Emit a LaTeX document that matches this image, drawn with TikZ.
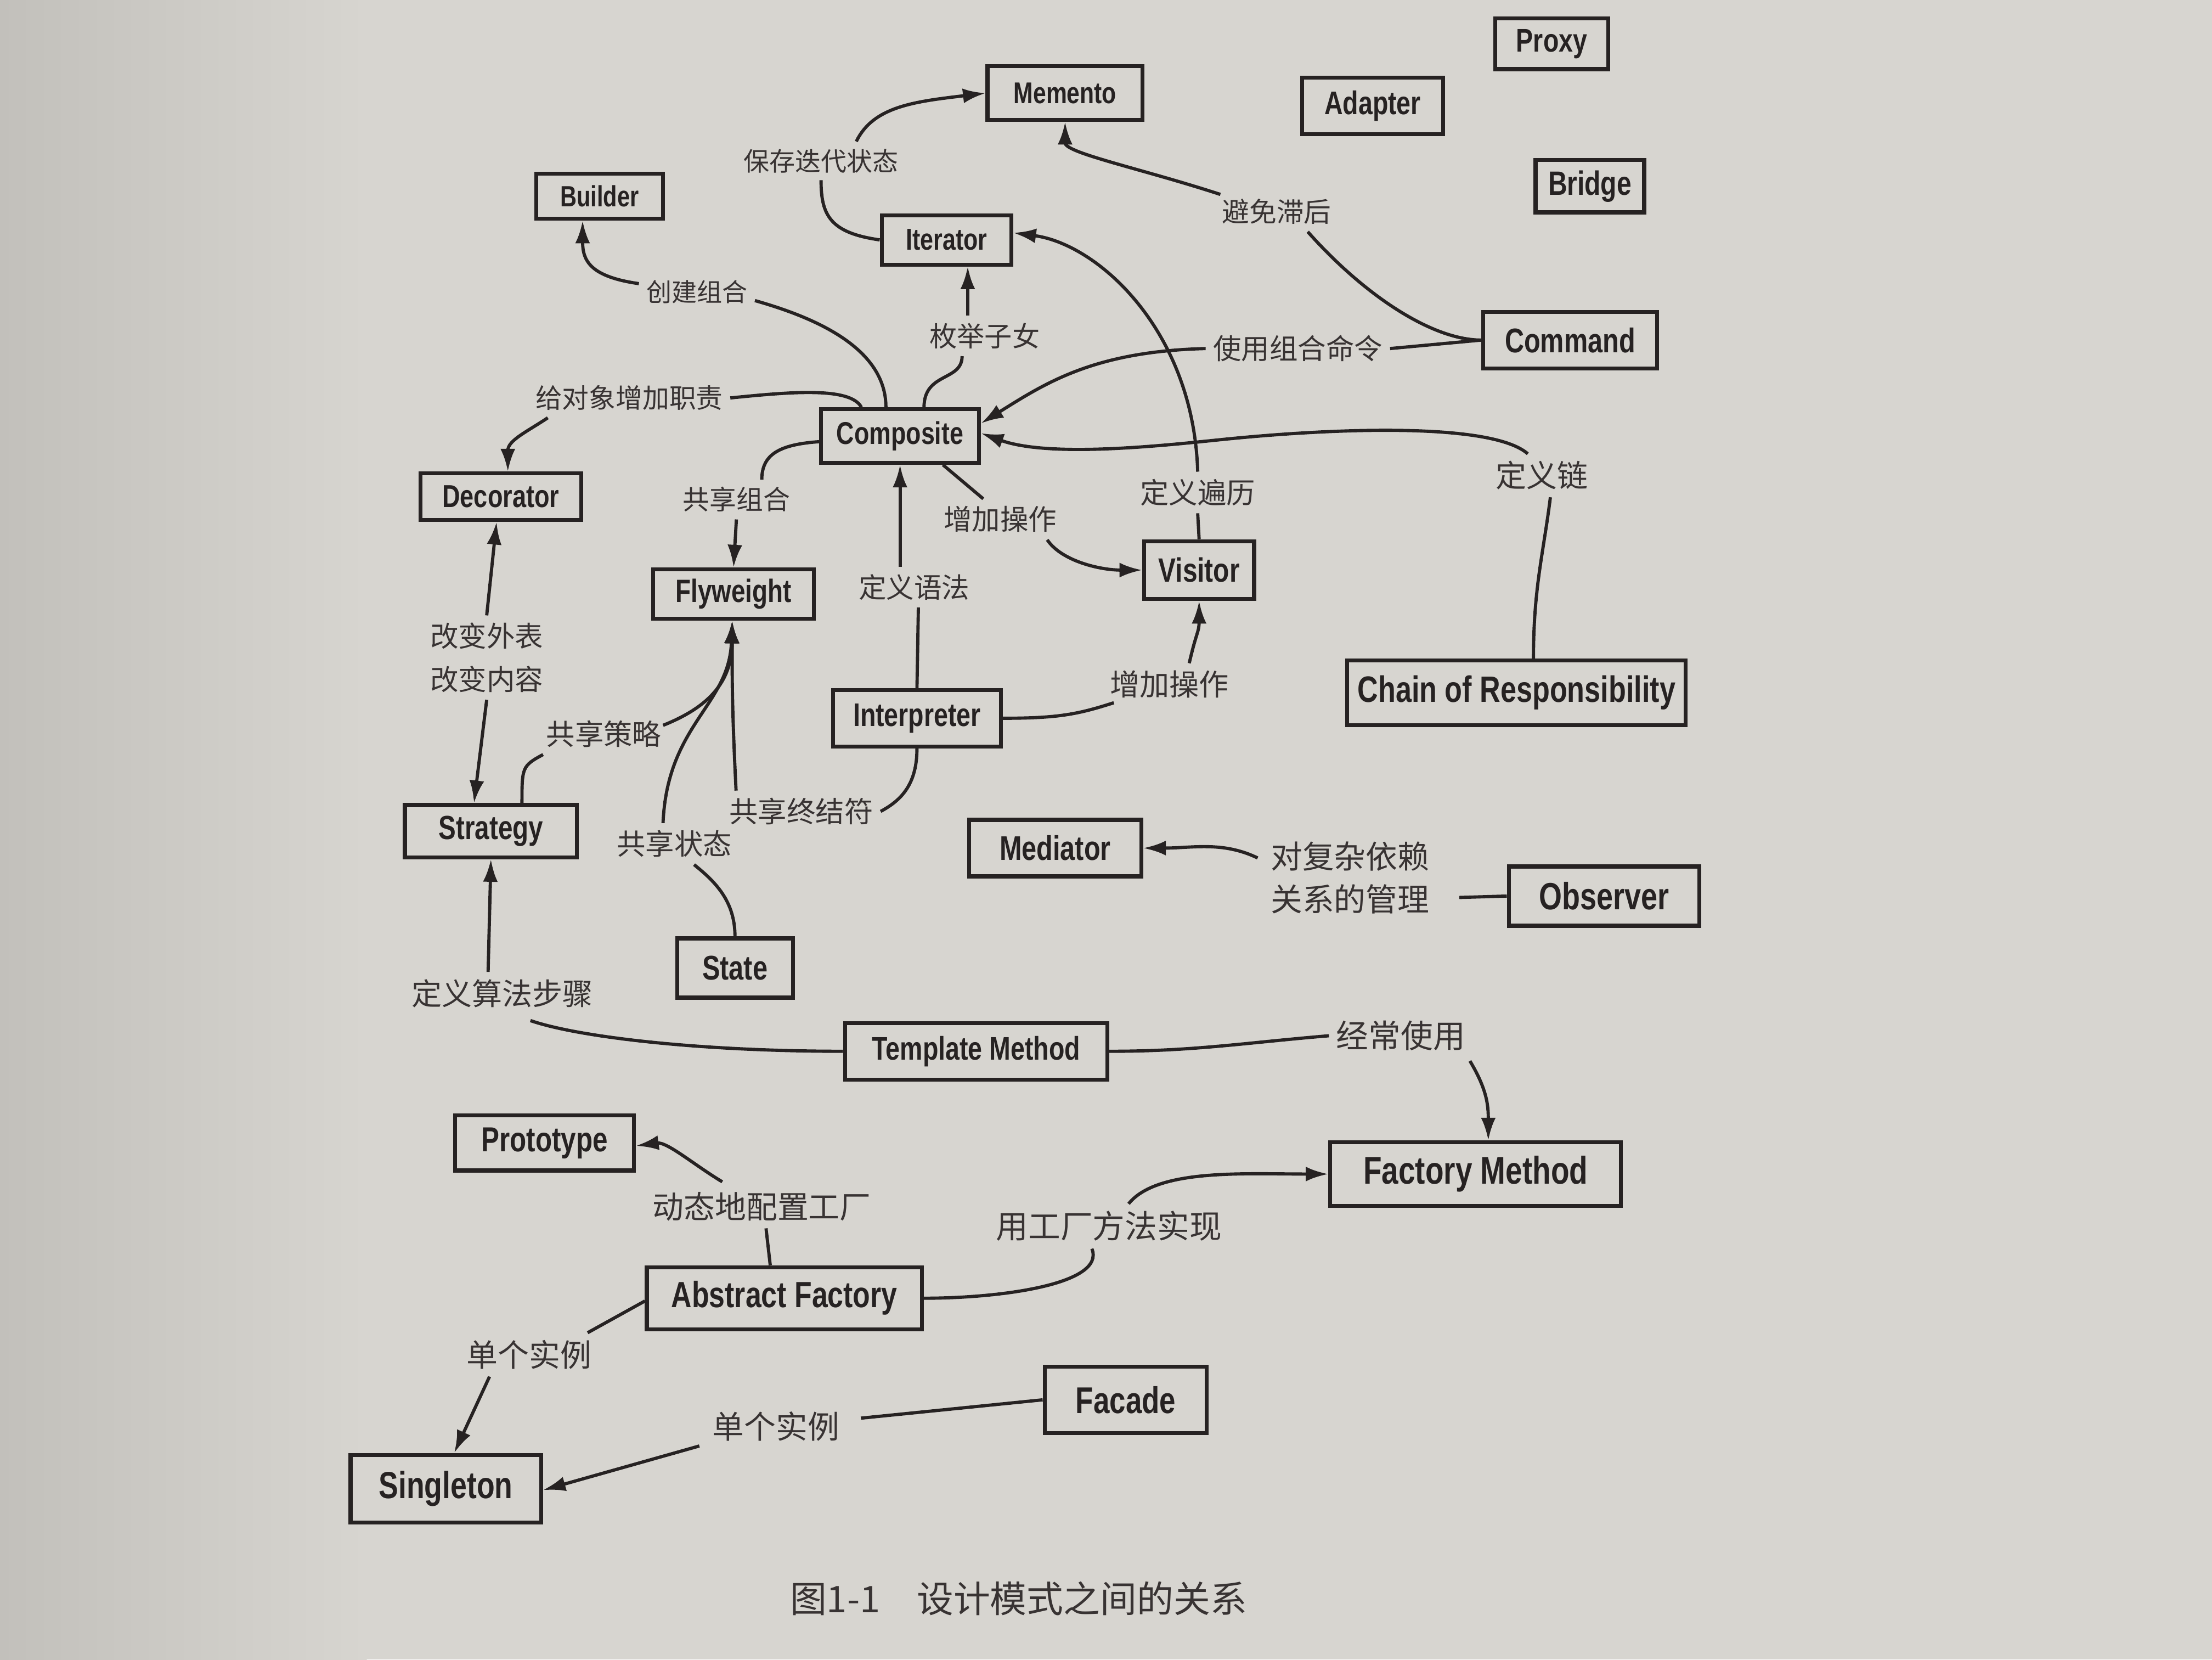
\documentclass[tikz,border=0pt]{standalone}
\usepackage{fontspec}
\usepackage{tikz}
\usetikzlibrary{arrows.meta,calc}
\newfontfamily\cjk{Noto Sans CJK SC}
\newfontfamily\boxfont{Liberation Sans}[FakeStretch=0.78]
\definecolor{Paper}{HTML}{D7D5D0}
\definecolor{PaperDark}{HTML}{C2C0BB}
\definecolor{Ink}{HTML}{262222}
\definecolor{InkSoft}{HTML}{383333}
\tikzset{
  box/.style={draw=Ink,line width=0.8pt,inner sep=0pt,align=center,text=Ink,font=\boxfont\bfseries\fontsize{#1}{#1}\selectfont},
  box/.default=7,
  note/.style={inner sep=1.3pt,align=center,text=InkSoft,font=\cjk\fontsize{#1}{8.7}\selectfont},
  note/.default=5.8,
  link/.style={draw=Ink,line width=0.65pt},
  arr/.style={link,-{Latex[length=1.6mm,width=1.05mm]}}
}

\begin{document}
\begin{tikzpicture}[x=0.1mm,y=-0.1mm]
  \shade[left color=PaperDark,right color=Paper] (0,0) rectangle (260,1176);
  \fill[Paper] (259,0) rectangle (1568,1176);
  \useasboundingbox (0,0) rectangle (1568,1176);

  % patterns
  \node[box=6.05,minimum width=11mm,minimum height=3.8mm] (memento) at (755,66) {Memento};
  \node[box=6.6,minimum width=8mm,minimum height=3.6mm] (proxy) at (1100,31) {Proxy};
  \node[box=6.6,minimum width=10mm,minimum height=4mm] (adapter) at (973,75) {Adapter};
  \node[box=6.8,minimum width=7.7mm,minimum height=3.7mm] (bridge) at (1127,132) {Bridge};
  \node[box=5.9,minimum width=9mm,minimum height=3.2mm] (builder) at (425,139) {Builder};
  \node[box=6.1,minimum width=9.2mm,minimum height=3.5mm] (iterator) at (671,170) {Iterator};
  \node[box=6.9,minimum width=12.3mm,minimum height=4mm] (command) at (1113,241) {Command};
  \node[box=6.35,minimum width=11.2mm,minimum height=3.8mm] (composite) at (638,309) {Composite};
  \node[box=6.4,minimum width=11.4mm,minimum height=3.3mm] (decorator) at (355,352) {Decorator};
  \node[box=6.5,minimum width=11.4mm,minimum height=3.5mm] (flyweight) at (520,421) {Flyweight};
  \node[box=6.8,minimum width=7.8mm,minimum height=4.1mm] (visitor) at (850,404) {Visitor};
  \node[box=7.4,minimum width=24mm,minimum height=4.6mm] (chain) at (1075,491) {Chain of Responsibility};
  \node[box=6.6,minimum width=11.9mm,minimum height=4mm] (interp) at (650,509) {Interpreter};
  \node[box=6.75,minimum width=12.2mm,minimum height=3.7mm] (strategy) at (348,589) {Strategy};
  \node[box=6.9,minimum width=12.2mm,minimum height=4mm] (mediator) at (748,601) {Mediator};
  \node[box=7.65,minimum width=13.5mm,minimum height=4.2mm] (observer) at (1137,635) {Observer};
  \node[box=6.9,minimum width=8.2mm,minimum height=4.2mm] (state) at (521,686) {State};
  \node[box=6.6,minimum width=18.6mm,minimum height=4mm] (template) at (692,745) {Template Method};
  \node[box=7,minimum width=12.7mm,minimum height=3.9mm] (prototype) at (386,810) {Prototype};
  \node[box=7.8,minimum width=20.6mm,minimum height=4.5mm] (factory) at (1046,832) {Factory Method};
  \node[box=7.35,minimum width=19.5mm,minimum height=4.4mm] (abstract) at (556,920) {Abstract Factory};
  \node[box=7.5,minimum width=11.5mm,minimum height=4.7mm] (facade) at (798,992) {Facade};
  \node[box=7.6,minimum width=13.5mm,minimum height=4.8mm] (singleton) at (316,1055) {Singleton};

  % relations
  \node[note=5.2] (saveState) at (582,114) {保存迭代状态};
  \node[note=5.5] (avoidLag) at (905,150) {避免滞后};
  \node[note=5.1] (buildComp) at (494,207) {创建组合};
  \node[note=5.55] (enumKids) at (698,238) {枚举子女};
  \node[note=5.7] (useCmd) at (920,247) {使用组合命令};
  \node[note=5.4] (addResp) at (446,282) {给对象增加职责};
  \node[note=5.4] (shareComp) at (522,354) {共享组合};
  \node[note=5.8] (defTrav) at (849,349) {定义遍历};
  \node[note=6.2] (defChain) at (1093,337) {定义链};
  \node[note=5.7] (addOpA) at (709,368) {增加操作};
  \node[note=5.6] (defGram) at (648,416) {定义语法};
  \node[note=5.7] (changeLook) at (345,466) {改变外表\\改变内容};
  \node[note=5.8] (shareStrat) at (428,520) {共享策略};
  \node[note=6] (addOpB) at (829,485) {增加操作};
  \node[note=5.8] (shareTerm) at (568,575) {共享终结符};
  \node[note=5.8] (shareState) at (478,598) {共享状态};
  \node[note=6.4] (depMgmt) at (957,622) {对复杂依赖\\关系的管理};
  \node[note=6.1] (algSteps) at (356,704) {定义算法步骤};
  \node[note=6.5] (oftenUse) at (993,734) {经常使用};
  \node[note=6.3] (cfgFactory) at (540,855) {动态地配置工厂};
  \node[note=6.5] (viaFactory) at (786,869) {用工厂方法实现};
  \node[note=6.3] (oneInstA) at (375,960) {单个实例};
  \node[note=6.4] (oneInstB) at (550,1011) {单个实例};
  \node[note=7.4] (caption) at (722,1133) {图1-1\quad 设计模式之间的关系};

  \draw[link] (iterator.west) .. controls +(-35,-5) and +(0,25) .. (saveState.south);
  \draw[arr] ($(saveState.north)+(25,0)$) .. controls +(12,-25) and +(-50,6) .. (memento.west);
  \draw[link] (command.west) .. controls +(-35,0) and +(40,45) .. ($(avoidLag.south)+(22,0)$);
  \draw[arr] ($(avoidLag.north west)+(4,2)$) .. controls +(-55,-18) and +(0,22) .. (memento.south);
  \draw[link] ($(composite.north)+(-10,0)$) .. controls +(0,-45) and +(35,10) .. ($(buildComp.east)+(0,6)$);
  \draw[arr] ($(buildComp.west)+(0,-6)$) .. controls +(-35,-5) and +(0,28) .. ($(builder.south)+(-12,0)$);
  \draw[link] ($(composite.north)+(17,0)$) .. controls +(0,-25) and +(0,18) .. ($(enumKids.south)+(-16,0)$);
  \draw[arr] ($(enumKids.north)+(-12,0)$) -- ($(iterator.south)+(15,0)$);
  \draw[link] (visitor.north) -- (defTrav.south);
  \draw[arr] (defTrav.north) .. controls +(-3,-100) and +(60,8) .. ($(iterator.east)+(0,-5)$);
  \draw[link] (command.west) -- (useCmd.east);
  \draw[arr] (useCmd.west) .. controls +(-80,2) and +(45,-28) .. ($(composite.east)+(0,-9)$);
  \draw[link] ($(chain.north)+(12,0)$) .. controls +(0,-50) and +(-5,40) .. ($(defChain.south)+(6,0)$);
  \draw[arr] ($(defChain.north)+(-10,0)$) .. controls +(-25,-22) and +(80,-8) .. ($(visitor.north)+(20,-71)$)
    .. controls +(-40,4) and +(50,18) .. ($(composite.east)+(0,-2)$);
  \draw[link] ($(composite.north west)+(30,0)$) .. controls +(-8,-15) and +(40,-4) .. (addResp.east);
  \draw[arr] ($(addResp.south west)+(14,0)$) .. controls +(-15,10) and +(0,-22) .. ($(decorator.north)+(5,0)$);
  \draw[link] ($(composite.west)+(0,4)$) .. controls +(-28,2) and +(0,-18) .. ($(shareComp.north)+(18,0)$);
  \draw[arr] (shareComp.south) -- (flyweight.north);
  \draw[link] ($(composite.south east)+(-27,0)$) -- ($(addOpA.north)+(-12,0)$);
  \draw[arr] ($(addOpA.south east)+(-12,0)$) .. controls +(10,15) and +(-30,0) .. (visitor.west);
  \draw[link] (interp.north) -- ($(defGram.south)+(3,0)$);
  \draw[arr] ($(defGram.north)+(-10,0)$) -- (composite.south);
  \draw[link] (interp.east) .. controls +(40,0) and +(-25,8) .. ($(addOpB.south west)+(8,-2)$);
  \draw[arr] ($(addOpB.north)+(14,0)$) .. controls +(5,-22) and +(0,22) .. (visitor.south);
  \draw[link] (interp.south) .. controls +(0,25) and +(15,-8) .. (shareTerm.east);
  \draw[arr] ($(shareTerm.north west)+(10,0)$) .. controls +(-3,-60) and +(0,40) .. ($(flyweight.south)+(-1,0)$);
  \draw[link] ($(strategy.north)+(22,0)$) .. controls +(0,-25) and +(-15,8) .. ($(shareStrat.south west)+(3,0)$);
  \draw[arr] ($(shareStrat.east)+(-4,-6)$) .. controls +(30,-12) and +(0,45) .. ($(flyweight.south)+(-1,0)$);
  \draw[link] (state.north) .. controls +(0,-25) and +(15,12) .. ($(shareState.south)+(14,0)$);
  \draw[arr] ($(shareState.north)+(-8,0)$) .. controls +(3,-70) and +(-2,60) .. ($(flyweight.south)+(-1,0)$);
  \draw[arr] (changeLook.north) -- ($(decorator.south)+(-3,0)$);
  \draw[arr] (changeLook.south) -- ($(strategy.north)+(-12,0)$);
  \draw[link] (template.west) .. controls +(-100,0) and +(35,12) .. ($(algSteps.south)+(20,4)$);
  \draw[arr] ($(algSteps.north)+(-10,0)$) -- (strategy.south);
  \draw[link] (template.east) .. controls +(60,0) and +(-60,5) .. (oftenUse.west);
  \draw[arr] ($(oftenUse.south east)+(-2,2)$) .. controls +(12,20) and +(0,-25) .. ($(factory.north)+(9,0)$);
  \draw[link] ($(abstract.north)+(-10,0)$) -- ($(cfgFactory.south)+(3,0)$);
  \draw[arr] ($(cfgFactory.north)+(-28,-2)$) .. controls +(-20,-12) and +(22,-3) .. ($(prototype.east)+(0,2)$);
  \draw[link] (abstract.east) .. controls +(55,0) and +(10,25) .. ($(viaFactory.south)+(-12,0)$);
  \draw[arr] ($(viaFactory.north)+(14,0)$) .. controls +(20,-25) and +(-60,0) .. (factory.west);
  \draw[link] ($(abstract.west)+(0,2)$) -- ($(oneInstA.north east)+(-8,0)$);
  \draw[arr] ($(oneInstA.south)+(-28,0)$) -- ($(singleton.north)+(6,0)$);
  \draw[link] (facade.west) -- ($(oneInstB.east)+(10,-6)$);
  \draw[arr] ($(oneInstB.south west)+(-4,-2)$) -- ($(singleton.east)+(0,1)$);
  \draw[link] (observer.west) -- ($(depMgmt.east)+(16,14)$);
  \draw[arr] ($(depMgmt.west)+(-4,-14)$) .. controls +(-25,-12) and +(35,0) .. (mediator.east);
\end{tikzpicture}
\end{document}
